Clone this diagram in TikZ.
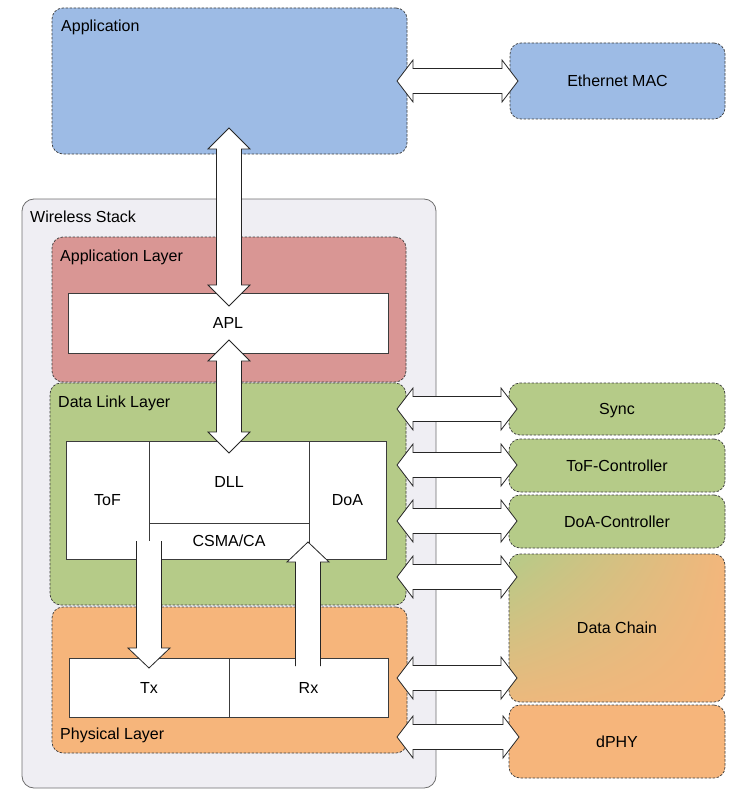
\documentclass[tikz,border=0pt]{standalone}
\usepackage{fontspec}
\setmainfont{Liberation Sans}
\usetikzlibrary{calc,shadings}
\definecolor{appblue}{RGB}{157,187,229}
\definecolor{wsfill}{RGB}{239,238,243}
\definecolor{aplred}{RGB}{217,150,148}
\definecolor{dlgreen}{RGB}{181,203,136}
\definecolor{phorange}{RGB}{246,181,123}
\definecolor{bordergray}{RGB}{60,60,60}
\definecolor{wsborder}{RGB}{110,110,110}
% vertical double arrow: top tip, bottom tip
\newcommand\vdarr[2]{%
\draw[barrow] let \p1=(#1), \p2=(#2) in
 (\x1,\y1) -- (\x1+21pt,\y1-21pt) -- (\x1+12.5pt,\y1-21pt) -- (\x1+12.5pt,\y2+21pt)
 -- (\x1+21pt,\y2+21pt) -- (\x1,\y2) -- (\x1-21pt,\y2+21pt) -- (\x1-12.5pt,\y2+21pt)
 -- (\x1-12.5pt,\y1-21pt) -- (\x1-21pt,\y1-21pt) -- cycle;}
% horizontal double arrow: left tip, right tip
\newcommand\hdarr[2]{%
\draw[barrow] let \p1=(#1), \p2=(#2) in
 (\x1,\y1) -- (\x1+16pt,\y1+21pt) -- (\x1+16pt,\y1+12.5pt) -- (\x2-16pt,\y1+12.5pt)
 -- (\x2-16pt,\y1+21pt) -- (\x2,\y1) -- (\x2-16pt,\y1-21pt) -- (\x2-16pt,\y1-12.5pt)
 -- (\x1+16pt,\y1-12.5pt) -- (\x1+16pt,\y1-21pt) -- cycle;}
% single vertical arrow: flat start, tip (open at start)
\newcommand\vsarr[3]{% #1 start, #2 tip, #3 sign (+1 tip below, -1 tip above)
\fill[white] let \p1=(#1), \p2=(#2) in
 (\x1-12.5pt,\y1) -- (\x1-12.5pt,\y2+#3*20pt) -- (\x1-21pt,\y2+#3*20pt) -- (\x1,\y2)
 -- (\x1+21pt,\y2+#3*20pt) -- (\x1+12.5pt,\y2+#3*20pt) -- (\x1+12.5pt,\y1) -- cycle;
\draw[barrow,fill=none] let \p1=(#1), \p2=(#2) in
 (\x1-12.5pt,\y1) -- (\x1-12.5pt,\y2+#3*20pt) -- (\x1-21pt,\y2+#3*20pt) -- (\x1,\y2)
 -- (\x1+21pt,\y2+#3*20pt) -- (\x1+12.5pt,\y2+#3*20pt) -- (\x1+12.5pt,\y1);}
\begin{document}
\begin{tikzpicture}[x=1pt,y=-1pt,
  lay/.style={draw=bordergray, dash pattern=on 2.5pt off 1.5pt, line width=0.7pt,
              rounded corners=11pt, inner sep=0pt},
  wbox/.style={draw=bordergray, fill=white, line width=0.8pt, inner sep=0pt,
               text height=11.5pt, text depth=0pt, font=\fontsize{16}{19}\selectfont},
  barrow/.style={draw=black!85, fill=white, line width=0.8pt, line join=miter},
  ttl/.style={anchor=base west, inner sep=0pt, font=\fontsize{16}{19}\selectfont},
  ctext/.style={inner sep=0pt, text height=11.5pt, text depth=0pt, font=\fontsize{16}{19}\selectfont}]
\useasboundingbox (0,0) rectangle (728,789);
% containers
\node[draw=wsborder, fill=wsfill, line width=0.8pt, rounded corners=12pt,
      minimum width=414pt, minimum height=589pt, inner sep=0pt] (ws) at (229,493.5) {};
\node[ttl] (wsl) at (30,222) {Wireless Stack};
\node[lay, fill=appblue, minimum width=355pt, minimum height=146pt] (app) at (229.5,81) {};
\node[ttl] (appl) at (61,32) {Application};
\node[lay, fill=appblue, minimum width=215pt, minimum height=76pt, ctext] (eth) at (617.5,81) {Ethernet MAC};
\node[lay, fill=aplred, minimum width=354pt, minimum height=145pt] (al) at (229,309.5) {};
\node[ttl] (all) at (60,261) {Application Layer};
\node[lay, fill=dlgreen, minimum width=356pt, minimum height=222pt] (dl) at (228,494) {};
\node[ttl] (dll) at (58,407) {Data Link Layer};
\node[lay, fill=phorange, minimum width=355pt, minimum height=146pt] (ph) at (229.5,680) {};
\node[ttl] (phl) at (60,739) {Physical Layer};
% inner boxes
\node[wbox, minimum width=320pt, minimum height=60pt] (apl) at (228,323) {APL};
\node[wbox, minimum width=83pt, minimum height=118pt] (tof) at (107.5,500) {ToF};
\node[wbox, minimum width=160pt, minimum height=82pt] (dllb) at (229,482) {DLL};
\node[wbox, minimum width=160pt, minimum height=36pt] (csma) at (229,541) {CSMA/CA};
\node[wbox, minimum width=77pt, minimum height=118pt] (doa) at (347.5,500) {DoA};
\node[wbox, minimum width=160pt, minimum height=59pt] (tx) at (149,687.5) {Tx};
\node[wbox, minimum width=159pt, minimum height=59pt] (rx) at (308.5,687.5) {Rx};
% right boxes
\node[lay, fill=dlgreen, minimum width=216pt, minimum height=52pt, ctext] (sync) at (617,409) {Sync};
\node[lay, fill=dlgreen, minimum width=216pt, minimum height=53pt, ctext] (tofc) at (617,465.5) {ToF-Controller};
\node[lay, fill=dlgreen, minimum width=216pt, minimum height=53pt, ctext] (doac) at (617,521.5) {DoA-Controller};
\node[lay, shade, upper left=dlgreen, upper right=phorange!95!dlgreen,
      lower left=phorange!85!dlgreen, lower right=phorange,
      minimum width=216pt, minimum height=148pt, ctext] (dc) at (617,628) {Data Chain};
\node[lay, fill=phorange, minimum width=216pt, minimum height=73pt, ctext] (dphy) at (617,741.5) {dPHY};
% arrow end points
\coordinate (a1t) at (229,128);
\coordinate (a1b) at (229,306);
\coordinate (a2t) at (229,340);
\coordinate (a2b) at (229,453);
\coordinate (txs) at (149,541);
\coordinate (txt) at (149,668);
\coordinate (rxs) at (308,666);
\coordinate (rxt) at (308,542);
\coordinate (e1) at (397,81);   \coordinate (e2) at (518,81);
\coordinate (s1) at (397,409);  \coordinate (s2) at (517,409);
\coordinate (t1) at (397,465);  \coordinate (t2) at (517,465);
\coordinate (d1) at (397,521);  \coordinate (d2) at (517,521);
\coordinate (c1) at (397,577);  \coordinate (c2) at (517,577);
\coordinate (c3) at (397,678);  \coordinate (c4) at (517,678);
\coordinate (p1) at (397,737);  \coordinate (p2) at (519,737);
% arrows
\vdarr{a1t}{a1b}
\vdarr{a2t}{a2b}
\vsarr{txs}{txt}{1}
\vsarr{rxs}{rxt}{-1}
\hdarr{e1}{e2}
\hdarr{s1}{s2}
\hdarr{t1}{t2}
\hdarr{d1}{d2}
\hdarr{c1}{c2}
\hdarr{c3}{c4}
\hdarr{p1}{p2}
\end{tikzpicture}
\end{document}
